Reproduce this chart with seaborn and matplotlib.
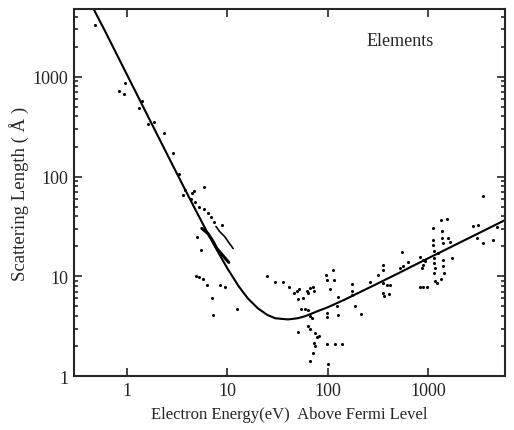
import matplotlib
matplotlib.use("Agg")
import numpy as np
import pandas as pd
import seaborn as sns
from matplotlib import pyplot as plt
from matplotlib.ticker import FixedLocator, FixedFormatter, NullLocator, LogLocator

# universal curve
curve_energy = [0.45, 0.6, 0.8, 1, 1.5, 2, 3, 4, 5, 6, 8, 10, 13, 16, 20, 25, 30, 40, 50, 60,
                80, 100, 150, 200, 300, 500, 700, 1000, 1500, 2000, 3000, 4000, 5800]
curve_length = [5100, 2917, 1641, 1050, 467, 263, 117.5, 66.6, 43.1, 30.3, 17.8, 12.0, 7.9, 6.0,
                4.8, 4.1, 3.8, 3.7, 3.8, 4.0, 4.5, 4.9, 5.9, 6.8, 8.3, 10.7, 12.7, 15.2, 18.6,
                21.5, 26.3, 30.4, 36.6]

# measured points (eV, Angstrom)
point_energy = [0.48, 0.83, 0.93, 0.95, 1.41, 1.32, 1.62, 1.86, 2.33, 2.87, 3.29, 3.61, 3.78, 4.33,
                4.64, 5.84, 4.43, 4.75, 5.2, 5.84, 6.4, 6.85, 7.34, 8.8,
                4.97, 5.45, 4.86, 5.2, 5.7, 6.25, 8.4, 9.4, 7.0, 7.2, 12.4,
                24.7, 29.7, 35.7, 41, 45.9, 49.2, 51.4, 50.3, 56.4, 61.8, 63.2, 66.2, 71, 72.6,
                53.8, 59, 63.2, 66.2, 69.3, 50.3, 63.2, 66.2, 74.3, 77.8, 81.3, 72.6, 74.3, 71,
                66.2, 100, 97.7, 117, 138, 97.7, 97.7, 126, 123, 126, 95.5, 97.7, 112, 115, 105,
                173, 173, 173, 186, 213, 262, 315, 352, 352, 352, 386, 414, 352, 405, 361,
                545, 520, 557, 625, 823, 881, 881, 861, 923, 823, 881, 966,
                1110, 1110, 1110, 1135, 1135, 1135, 1160, 1135, 1160, 1215, 1245, 1330, 1530,
                1360, 1360, 1395, 1565, 1635, 1395, 1395, 1425, 1330, 1715,
                2770, 3110, 3040, 3485, 4385, 4805, 3485]
point_length = [3300, 725, 675, 870, 575, 490, 340, 355, 275, 174, 105, 65, 74, 60,
                72, 78, 68, 55, 50, 47, 43, 39, 35, 32.5,
                25, 18.2, 10, 9.8, 9.5, 8.1, 8.1, 7.9, 6.0, 4.1, 4.7,
                10, 8.7, 8.7, 7.9, 6.8, 7.1, 7.4, 5.9, 6.0, 7.2, 6.8, 7.6, 7.8, 7.2,
                4.7, 4.7, 4.6, 4.0, 3.8, 2.75, 3.16, 3.0, 2.7, 2.45, 2.5, 2.14, 2.0, 1.7,
                1.41, 1.32, 2.09, 2.09, 2.09, 4.3, 3.9, 4.1, 5.0, 6.2, 10.2, 9.1, 11.5, 9.1, 7.4,
                8.3, 7.2, 6.5, 5.0, 4.2, 8.7, 10.2, 12.9, 11.7, 8.5, 8.1, 8.1, 6.8, 6.6, 6.3,
                17.4, 12.0, 12.6, 13.8, 15.8, 14.5, 12.9, 12.0, 14.1, 7.9, 7.8, 7.9,
                30.2, 22.9, 20.4, 17.8, 15.1, 13.5, 12.0, 10.7, 8.9, 8.5, 17.0, 36.3, 37.2,
                28.2, 24.5, 21.4, 24.0, 21.9, 14.5, 12.6, 10.7, 9.5, 15.1,
                31.6, 32.4, 24.0, 21.4, 23.4, 30.9, 64.6]

# short measured runs drawn as lines
run1_energy = [7.7, 8.4, 9.4, 10.3, 11.4]
run1_length = [31.6, 28.0, 25.0, 21.9, 19.0]
run2_energy = [5.56, 6.4, 7.1, 7.85, 9.0, 10.3]
run2_length = [30.2, 26.9, 22.9, 19.0, 16.2, 13.8]

sns.set_style("ticks")
plt.rcParams['font.family'] = ['Liberation Serif', 'DejaVu Serif']

fig = plt.figure(figsize=(5.14, 4.31), dpi=100)
ax = fig.add_axes([0.144, 0.125, 0.838, 0.852])

curve = pd.DataFrame({"energy": curve_energy, "length": curve_length})
pts = pd.DataFrame({"energy": point_energy, "length": point_length})

sns.lineplot(data=curve, x="energy", y="length", color="black", linewidth=1.5, ax=ax,
             sort=False)
sns.lineplot(x=run1_energy, y=run1_length, color="black", linewidth=1.2, ax=ax, sort=False)
sns.lineplot(x=run2_energy, y=run2_length, color="black", linewidth=2.2, ax=ax, sort=False)
sns.scatterplot(data=pts, x="energy", y="length", color="black", s=5, linewidth=0, ax=ax)

ax.set_xscale("log")
ax.set_yscale("log")
ax.set_xlim(0.297, 5770)
ax.set_ylim(1, 4790)

ticks = [1, 10, 100, 1000]
labels = ["1", "10", "100", "1000"]
ax.xaxis.set_major_locator(FixedLocator(ticks))
ax.xaxis.set_major_formatter(FixedFormatter(labels))
ax.xaxis.set_minor_locator(NullLocator())
ax.yaxis.set_major_locator(FixedLocator(ticks))
ax.yaxis.set_major_formatter(FixedFormatter(labels))
ax.yaxis.set_minor_locator(LogLocator(base=10, subs=np.arange(2, 10), numticks=20))

ax.tick_params(which="both", direction="in", top=True, right=True, width=1.2,
               labelsize=13, pad=4)
ax.tick_params(which="major", length=6)
ax.tick_params(which="minor", length=3)
for s in ax.spines.values():
    s.set_linewidth(1.5)

ax.set_xlabel("Electron Energy(eV)  Above Fermi Level", fontsize=12, labelpad=5)
ax.set_ylabel("Scattering Length ( Å )", fontsize=13.5, labelpad=3)
ax.text(0.756, 0.913, "Elements", transform=ax.transAxes, fontsize=13, ha="center", va="center")

plt.savefig("out.png", dpi=100)
